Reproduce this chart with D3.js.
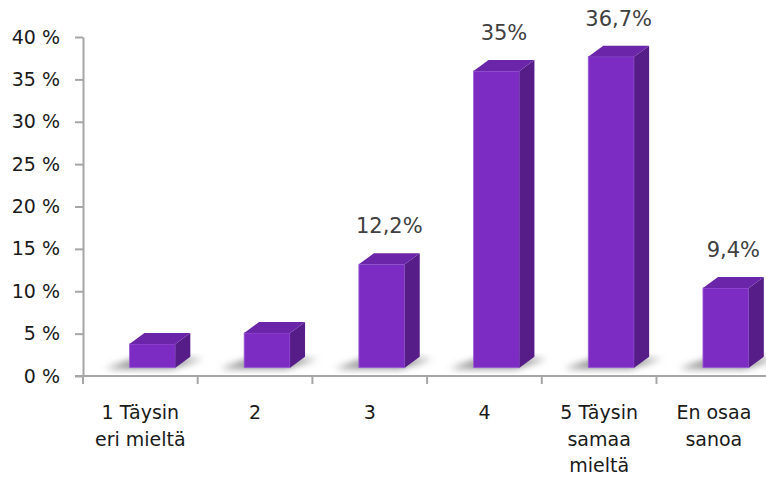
<!DOCTYPE html>
<html>
<head>
<meta charset="utf-8">
<script src="https://cdn.jsdelivr.net/npm/d3@7"></script>
<style>
  body { margin: 0; background: #fff; }
  svg text { font-family: "DejaVu Sans", sans-serif; }
</style>
</head>
<body>
<svg id="chart" width="766" height="479"></svg>
<script>
// data
const categories = [["1 Täysin", "eri mieltä"], ["2"], ["3"], ["4"], ["5 Täysin", "samaa", "mieltä"], ["En osaa", "sanoa"]];
const values = [2.8, 4.1, 12.2, 35, 36.7, 9.4];
const valueLabels = ["", "", "12,2%", "35%", "36,7%", "9,4%"];
const yTicks = [0, 5, 10, 15, 20, 25, 30, 35, 40];

const width = 766;
const height = 479;
const axisX = 83;
const axisY = 376;
const depthX = 15;   // 3d depth offset
const depthY = -11;
const floorLift = 8.3; // bars sit a bit behind the axis line

const svg = d3.select("#chart");

const defs = svg.append("defs");
defs.append("filter")
  .attr("id", "shadowBlur")
  .attr("x", "-50%").attr("y", "-50%")
  .attr("width", "200%").attr("height", "200%")
  .append("feGaussianBlur")
  .attr("stdDeviation", 3.5);

const xScale = d3.scaleBand()
  .domain(d3.range(categories.length))
  .range([axisX, axisX + 114.7 * categories.length])
  .paddingInner(0)
  .paddingOuter(0);

const yScale = d3.scaleLinear()
  .domain([0, 40])
  .range([axisY, 37]);

const band = xScale.bandwidth();
const barW = band * 0.4;
const barLeft = (i) => xScale(i) + band * 0.405;
const barTop = (v) => yScale(v) - floorLift;
const barBottom = yScale(0) - floorLift;

// y axis
const yAxis = d3.axisLeft(yScale)
  .tickValues(yTicks)
  .tickFormat((d) => d + " %")
  .tickSizeInner(8)
  .tickSizeOuter(0)
  .tickPadding(15);

const yG = svg.append("g")
  .attr("transform", `translate(${axisX},0)`)
  .call(yAxis);
yG.select(".domain").attr("stroke", "#a6a6a6").attr("stroke-width", 2);
yG.selectAll(".tick line").attr("stroke", "#a6a6a6").attr("stroke-width", 2);
yG.selectAll(".tick text")
  .attr("font-size", 19)
  .attr("fill", "#1a1a1a")
  .attr("font-family", "DejaVu Sans, sans-serif");

// x axis line + ticks at band edges
svg.append("line")
  .attr("x1", axisX - 8).attr("x2", width)
  .attr("y1", axisY).attr("y2", axisY)
  .attr("stroke", "#a6a6a6").attr("stroke-width", 2);

svg.append("g")
  .selectAll("line")
  .data(d3.range(categories.length + 1))
  .enter()
  .append("line")
  .attr("x1", (i) => axisX + band * i)
  .attr("x2", (i) => axisX + band * i)
  .attr("y1", axisY)
  .attr("y2", axisY + 8)
  .attr("stroke", "#a6a6a6")
  .attr("stroke-width", 2);

// category labels
const labels = svg.append("g")
  .selectAll("text")
  .data(categories)
  .enter()
  .append("text")
  .attr("text-anchor", "middle")
  .attr("font-size", 19)
  .attr("fill", "#1a1a1a");
labels.each(function (lines, i) {
  const t = d3.select(this);
  lines.forEach((line, k) => {
    t.append("tspan")
      .attr("x", xScale(i) + band / 2)
      .attr("y", 419 + k * 26.5)
      .text(line);
  });
});

// shadows on the floor
svg.append("g")
  .attr("filter", "url(#shadowBlur)")
  .selectAll("path")
  .data(values)
  .enter()
  .append("path")
  .attr("fill", "#7a7a7a")
  .attr("opacity", 0.85)
  .attr("d", (d, i) => {
    const x0 = barLeft(i);
    const y0 = barBottom;
    return `M${x0 - 24},${y0 + 1} L${x0 + barW - 4},${y0 + 1} L${x0 + barW + depthX + 12},${y0 + depthY + 2} L${x0 + depthX - 10},${y0 + depthY + 2} Z`;
  });

// bars
const bars = svg.append("g")
  .selectAll("g")
  .data(values)
  .enter()
  .append("g");

// front
bars.append("rect")
  .attr("x", (d, i) => barLeft(i))
  .attr("y", (d) => barTop(d))
  .attr("width", barW)
  .attr("height", (d) => barBottom - barTop(d))
  .attr("fill", "#7d2cc3")
  .attr("stroke", "#9a5fd6")
  .attr("stroke-width", 0.8);

// side
bars.append("path")
  .attr("fill", "#561c88")
  .attr("d", (d, i) => {
    const x = barLeft(i) + barW;
    const t = barTop(d);
    return `M${x},${t} L${x + depthX},${t + depthY} L${x + depthX},${barBottom + depthY} L${x},${barBottom} Z`;
  });

// top
bars.append("path")
  .attr("fill", "#6a25a9")
  .attr("d", (d, i) => {
    const x = barLeft(i);
    const t = barTop(d);
    return `M${x},${t} L${x + depthX},${t + depthY} L${x + barW + depthX},${t + depthY} L${x + barW},${t} Z`;
  });

// value labels
svg.append("g")
  .selectAll("text")
  .data(values)
  .enter()
  .append("text")
  .attr("text-anchor", "middle")
  .attr("font-size", 21)
  .attr("fill", "#404040")
  .attr("x", (d, i) => barLeft(i) + barW / 2 + depthX / 2)
  .attr("y", (d) => barTop(d) + depthY - 20)
  .text((d, i) => valueLabels[i]);
</script>
</body>
</html>
